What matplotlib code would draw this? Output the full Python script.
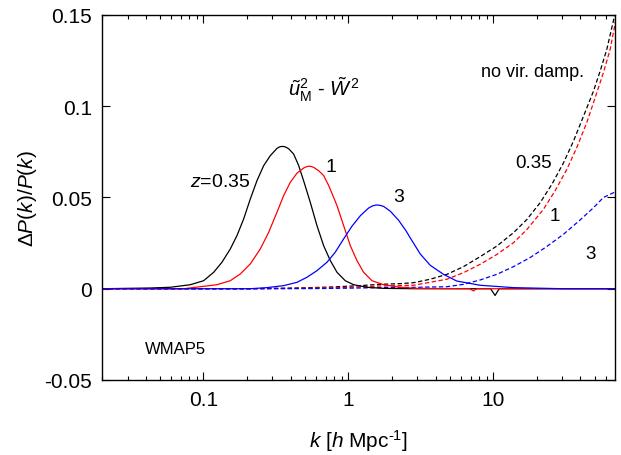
import numpy as np
import matplotlib
matplotlib.use("Agg")
import matplotlib.pyplot as plt
from matplotlib.ticker import FuncFormatter, LogLocator, NullFormatter

plt.rcParams['font.family'] = ['Liberation Sans', 'DejaVu Sans']
plt.rcParams['mathtext.fontset'] = 'custom'
plt.rcParams['mathtext.rm'] = 'Liberation Sans'
plt.rcParams['mathtext.it'] = 'Liberation Sans:italic'
plt.rcParams['mathtext.bf'] = 'Liberation Sans:bold'

# solid curves (with virial damping)
k_z035 = [0.02, 0.0431, 0.0592, 0.0813, 0.1005, 0.1178, 0.1344, 0.1535, 0.1706, 0.1897,
          0.2109, 0.2344, 0.2606, 0.2897, 0.3221, 0.3374, 0.3524, 0.368, 0.3878, 0.4198,
          0.4543, 0.4917, 0.547, 0.608, 0.676, 0.752, 0.836, 0.953, 1.089, 1.345, 1.753,
          3.0, 9.6, 10.3, 11.0, 69.0]
d_z035 = [0.0, 0.0004, 0.0008, 0.0022, 0.0044, 0.0090, 0.0145, 0.0218, 0.0291, 0.0382,
          0.0492, 0.0592, 0.0674, 0.0729, 0.0769, 0.0778, 0.0780, 0.0777, 0.0767, 0.0738,
          0.0676, 0.0592, 0.0473, 0.0346, 0.0236, 0.0154, 0.0090, 0.0044, 0.0022, 0.0008,
          0.0002, 0.0, 0.0, -0.0037, 0.0, 0.0]

k_z1 = [0.02, 0.0431, 0.0731, 0.1242, 0.1535, 0.1799, 0.2109, 0.2472, 0.2823, 0.3221,
        0.3581, 0.3981, 0.4426, 0.4917, 0.512, 0.532, 0.554, 0.577, 0.624, 0.676, 0.731,
        0.792, 0.836, 0.929, 1.033, 1.148, 1.276, 1.457, 1.753, 2.284, 2.977, 6.9, 7.3,
        7.7, 69.0]
d_z1 = [0.0, 0.0, 0.0, 0.0022, 0.0044, 0.0081, 0.0136, 0.0218, 0.0309, 0.0419,
        0.0510, 0.0583, 0.0633, 0.0661, 0.0668, 0.0671, 0.0670, 0.0665, 0.0647, 0.0620, 0.0567,
        0.0501, 0.0455, 0.0346, 0.0236, 0.0154, 0.0090, 0.0044, 0.0022, 0.0008, 0.0002, 0.0,
        -0.0012, 0.0, 0.0]

k_z3 = [0.02, 0.2109, 0.2748, 0.3581, 0.4426, 0.519, 0.608, 0.713, 0.813, 0.929, 1.059,
        1.211, 1.381, 1.47, 1.56, 1.65, 1.753, 1.949, 2.225, 2.5, 2.68, 3.14, 3.68, 4.54,
        5.61, 8.13, 13.8, 30.5, 69.0]
d_z3 = [0.0, 0.0, 0.0006, 0.0017, 0.0035, 0.0063, 0.0099, 0.0145, 0.0200, 0.0273, 0.0342,
        0.0400, 0.0442, 0.0454, 0.0459, 0.0457, 0.0451, 0.0425, 0.0375, 0.0318, 0.0278,
        0.0190, 0.0128, 0.0079, 0.0042, 0.0019, 0.0006, 0.0, 0.0]

# dashed curves (no virial damping)
kn_z035 = [0.02, 0.2, 0.3, 0.5, 0.8, 1.2, 1.663, 2.284, 2.822, 3.678, 4.79, 6.24, 8.13,
           10.6, 13.8, 17.1, 21.1, 25.4, 30.6, 35.8, 42.0, 49.2, 54.7, 60.8, 67.6, 70.0]
dn_z035 = [0.0, 0.0, 0.0002, 0.0005, 0.0010, 0.0017, 0.0024, 0.0028, 0.0033, 0.0052, 0.0079,
           0.0121, 0.0176, 0.0234, 0.0307, 0.0380, 0.0472, 0.0572, 0.0691, 0.0809, 0.0946,
           0.1083, 0.1193, 0.1312, 0.1470, 0.1530]

kn_z1 = [0.02, 0.2, 0.3, 0.5, 0.8, 1.2, 1.663, 2.822, 4.79, 6.24, 8.13, 10.6, 13.8, 17.1,
         22.2, 26.7, 32.2, 37.7, 44.2, 50.5, 57.6, 64.1, 69.3, 70.0]
dn_z1 = [0.0, 0.0, 0.0001, 0.0003, 0.0006, 0.0010, 0.0015, 0.0019, 0.0052, 0.0088, 0.0134,
         0.0188, 0.0252, 0.0325, 0.0435, 0.0536, 0.0654, 0.0773, 0.0910, 0.1047, 0.1184,
         0.1312, 0.1450, 0.1480]

kn_z3 = [0.02, 0.3, 0.6, 1.0, 1.663, 3.0, 4.79, 6.24, 8.13, 10.6, 13.8, 18.0, 23.4, 30.6,
         39.8, 49.2, 57.6, 69.3]
dn_z3 = [0.0, 0.0, 0.0001, 0.0003, 0.0006, 0.0008, 0.0011, 0.0024, 0.0048, 0.0079, 0.0121,
         0.0171, 0.0231, 0.0299, 0.0377, 0.0444, 0.0500, 0.0530]

fig = plt.figure(figsize=(6.21, 4.56), dpi=100)
ax = fig.add_axes([0.1643, 0.1645, 0.8257, 0.8005])

dash = (3.5, 2)
ax.plot(kn_z035, dn_z035, color='black', lw=0.9, dashes=dash)
ax.plot(kn_z1, dn_z1, color='red', lw=0.9, dashes=dash)
ax.plot(kn_z3, dn_z3, color='blue', lw=0.9, dashes=dash)
ax.plot(k_z035, d_z035, color='black', lw=0.9)
ax.plot(k_z1, d_z1, color='red', lw=0.9)
ax.plot(k_z3, d_z3, color='blue', lw=0.9)

ax.set_xscale('log')
ax.set_xlim(0.02, 69)
ax.set_ylim(-0.05, 0.15)
ax.set_yticks([-0.05, 0, 0.05, 0.1, 0.15])
ax.yaxis.set_major_formatter(FuncFormatter(lambda v, p: '%g' % round(v, 3)))
ax.xaxis.set_major_formatter(FuncFormatter(lambda v, p: '%g' % v))
ax.xaxis.set_minor_locator(LogLocator(base=10, subs=np.arange(2, 10)))
ax.xaxis.set_minor_formatter(NullFormatter())
ax.tick_params(which='both', direction='in', top=True, right=True, labelsize=15, width=0.8)
ax.tick_params(which='major', length=6, pad=7)
ax.tick_params(which='minor', length=3)
for s in ax.spines.values():
    s.set_linewidth(1.0)

ax.set_xlabel(r'$k$ [$h$ Mpc$^{\text{-}1}$]', fontsize=15, labelpad=13)
ax.set_ylabel(r'$\Delta P(k)/P(k)$', fontsize=15, labelpad=4)

ax.text(0.131, 0.0585, r'$z$=0.35', fontsize=14, ha='center', va='center')
ax.text(0.764, 0.0667, '1', fontsize=14, ha='center', va='center')
ax.text(2.21, 0.0503, '3', fontsize=14, ha='center', va='center')
ax.text(0.682, 0.1095, r'$\tilde{u}^2_{\rm M}$ - $\tilde{W}^{\,2}$', fontsize=14.5,
        ha='center', va='center')
ax.text(18.6, 0.1188, 'no vir. damp.', fontsize=13, ha='center', va='center')
ax.text(18.9, 0.0694, '0.35', fontsize=13.5, ha='center', va='center')
ax.text(26.8, 0.040, '1', fontsize=13.5, ha='center', va='center')
ax.text(46.7, 0.0194, '3', fontsize=13.5, ha='center', va='center')
ax.text(0.0641, -0.0325, 'WMAP5', fontsize=12, ha='center', va='center')

fig.savefig('out.png', dpi=100)
